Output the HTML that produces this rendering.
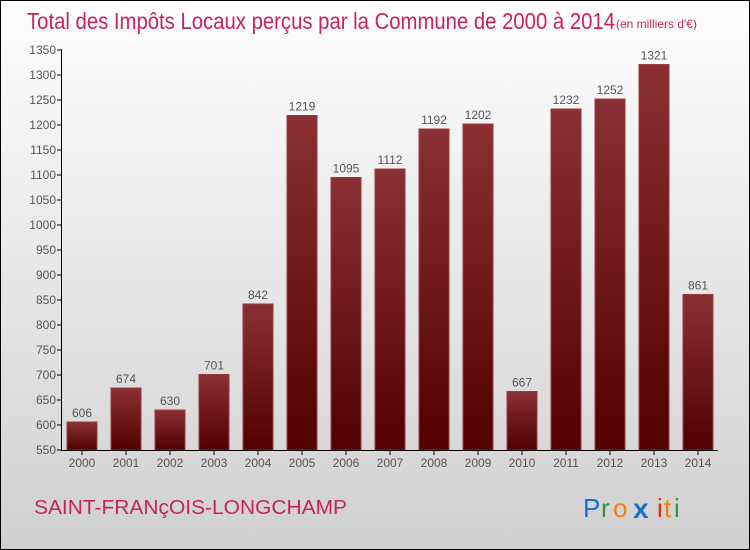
<!DOCTYPE html>
<html><head><meta charset="utf-8"><style>
body{margin:0;}
#c{position:relative;width:748px;height:548px;border:1px solid #000;background:linear-gradient(#fefefe,#d0d0d0);font-family:"Liberation Sans",sans-serif;overflow:hidden}
</style></head><body>
<div id="c">
<svg width="748" height="548">
<defs><linearGradient id="bg" x1="0" y1="0" x2="0" y2="1"><stop offset="0" stop-color="#8a3034"/><stop offset="1" stop-color="#520000"/></linearGradient></defs>
<text x="26" y="28" font-size="23" fill="#c8235a" font-weight="300" textLength="588" lengthAdjust="spacingAndGlyphs">Total des Impôts Locaux perçus par la Commune de 2000 à 2014</text>
<text x="615" y="27" font-size="12" fill="#c8235a">(en milliers d'€)</text>
<g id="plot"></g>
<text x="33" y="513" font-size="20" fill="#c8235a" textLength="313" lengthAdjust="spacingAndGlyphs">SAINT-FRANçOIS-LONGCHAMP</text>
<g font-size="26" font-family="'Liberation Sans',sans-serif">
<text x="582" y="516" fill="#1a6fc8">P</text><text x="600" y="516" fill="#2a9a3a">r</text><text x="612" y="516" fill="#f08010">o</text><text x="632" y="517" fill="#1a6fc8" font-weight="bold" font-size="28">x</text><text x="656" y="516" fill="#e03010">i</text><text x="663" y="516" fill="#f08010">t</text><text x="673" y="516" fill="#2a9a3a">i</text>
</g>
</svg>
</div>
<script>
const years=["2000","2001","2002","2003","2004","2005","2006","2007","2008","2009","2010","2011","2012","2013","2014"];
const values=[606,674,630,701,842,1219,1095,1112,1192,1202,667,1232,1252,1321,861];
const ticks=[550,600,650,700,750,800,850,900,950,1000,1050,1100,1150,1200,1250,1300,1350];
const NS="http://www.w3.org/2000/svg";
const g=document.getElementById('plot');
const y=v=>449-(v-550)*0.5;
const x=i=>81+i*44;
function mk(t,a){const e=document.createElementNS(NS,t);for(const k in a)e.setAttribute(k,a[k]);g.appendChild(e);return e;}
ticks.forEach(t=>{
 const l=mk('line',{x1:56,x2:61,y1:y(t),y2:y(t),stroke:'#000'});
 
 
 const tx=mk('text',{x:55,y:y(t)+4,'font-size':12,fill:'#555','text-anchor':'end'});tx.textContent=t;
 
 
});
values.forEach((v,i)=>{
 const b=mk('rect',{x:x(i)-15,y:y(v),width:30,height:y(550)-y(v),fill:'url(#bg)',stroke:'#9a3a3e','stroke-width':1});
 
 
 const lb=mk('text',{x:x(i),y:y(v)-5,'font-size':12,fill:'#555','text-anchor':'middle'});lb.textContent=v;
 
 
 const tk=mk('line',{x1:x(i),x2:x(i),y1:449,y2:454,stroke:'#000'});
 
 
 const yl=mk('text',{x:x(i),y:466,'font-size':12,fill:'#555','text-anchor':'middle'});yl.textContent=years[i];
 
 
});
const ax=mk('line',{x1:60.5,x2:60.5,y1:y(1350)-1,y2:449.5,stroke:'#000'});


const xa=mk('line',{x1:60,x2:717,y1:449.5,y2:449.5,stroke:'#000'});


</script>
</body></html>
